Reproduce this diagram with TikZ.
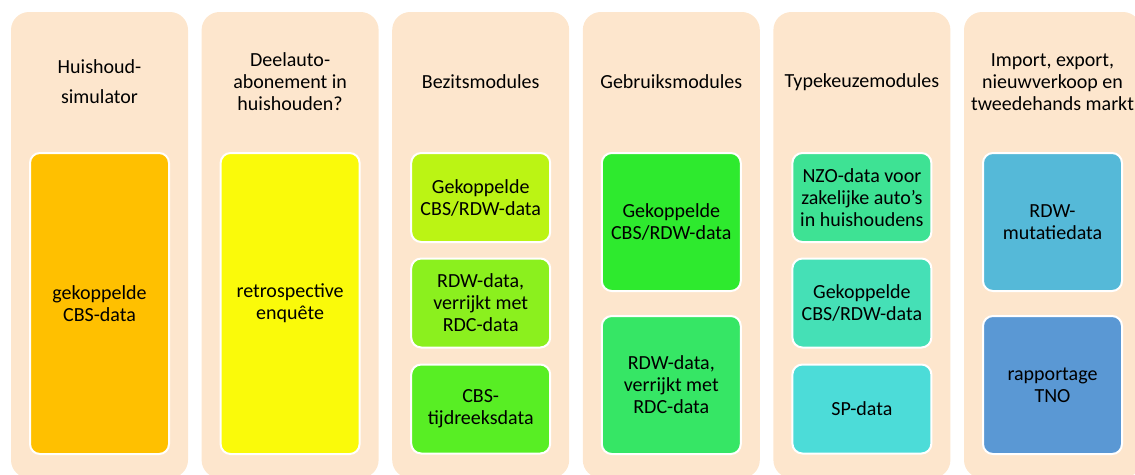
\documentclass[tikz,border=0pt]{standalone}
\usepackage{fontspec}
\setmainfont{Carlito}
\definecolor{peach}{HTML}{FDE6CD}
\definecolor{cA}{HTML}{FFC000}
\definecolor{cB}{HTML}{FAFA0A}
\definecolor{cC}{HTML}{BBF414}
\definecolor{cD}{HTML}{8BF01E}
\definecolor{cE}{HTML}{58EE24}
\definecolor{cF}{HTML}{2EEA2E}
\definecolor{cG}{HTML}{36E665}
\definecolor{cH}{HTML}{3EE294}
\definecolor{cI}{HTML}{45E0B6}
\definecolor{cJ}{HTML}{4CDCD8}
\definecolor{cK}{HTML}{55B9D8}
\definecolor{cL}{HTML}{5A98D4}
\tikzset{
  x=1pt, y=-1pt,
  colbox/.style={fill=peach, draw=none, rounded corners=18pt, minimum width=177pt, minimum height=466pt, inner sep=0pt},
  coltitle/.style={align=center, font=\fontsize{20}{22}\selectfont, inner sep=0pt, text=black},
  databox/.style={draw=white, line width=2pt, rounded corners=10pt, minimum width=139pt, inner sep=0pt, align=center, font=\fontsize{20}{22}\selectfont, text=black},
  fullbox/.style={databox, minimum height=301pt},
  thirdbox/.style={databox, minimum height=89pt},
  halfbox/.style={databox, minimum height=138pt}
}
\begin{document}
\begin{tikzpicture}
\useasboundingbox (0,0) rectangle (1135,474);
% columns
\node[colbox] (c1) at (99.5,245) {};
\node[colbox] (c2) at (290.1,245) {};
\node[colbox] (c3) at (480.7,245) {};
\node[colbox] (c4) at (671.3,245) {};
\node[colbox] (c5) at (861.9,245) {};
\node[colbox] (c6) at (1052.5,245) {};
% titles
\node[coltitle] (t1) at (99.5,82) {Huishoud-\\[8pt]simulator};
\node[coltitle] (t2) at (290.1,82) {Deelauto-\\abonement in\\huishouden?};
\node[coltitle] (t3) at (480.7,82) {Bezitsmodules};
\node[coltitle] (t4) at (671.3,82) {Gebruiksmodules};
\node[coltitle] (t5) at (861.9,82) {Typekeuzemodules};
\node[coltitle] (t6) at (1052.5,82) {Import, export,\\nieuwverkoop en\\tweedehands markt};
% column 1
\node[fullbox, fill=cA] (b11) at (99.5,303.5) {gekoppelde\\CBS-data};
% column 2
\node[fullbox, fill=cB] (b21) at (290.1,303.5) {retrospective\\enquête};
% column 3
\node[thirdbox, fill=cC] (b31) at (480.7,197.5) {Gekoppelde\\CBS/RDW-data};
\node[thirdbox, fill=cD] (b32) at (480.7,303) {RDW-data,\\verrijkt met\\RDC-data};
\node[thirdbox, fill=cE] (b33) at (480.7,409) {CBS-\\tijdreeksdata};
% column 4
\node[halfbox, fill=cF] (b41) at (671.3,222) {Gekoppelde\\CBS/RDW-data};
\node[halfbox, fill=cG] (b42) at (671.3,385) {RDW-data,\\verrijkt met\\RDC-data};
% column 5
\node[thirdbox, fill=cH] (b51) at (861.9,197.5) {NZO-data voor\\zakelijke auto’s\\in huishoudens};
\node[thirdbox, fill=cI] (b52) at (861.9,303) {Gekoppelde\\CBS/RDW-data};
\node[thirdbox, fill=cJ] (b53) at (861.9,409) {SP-data};
% column 6
\node[halfbox, fill=cK] (b61) at (1052.5,222) {RDW-\\mutatiedata};
\node[halfbox, fill=cL] (b62) at (1052.5,385) {rapportage\\TNO};
\end{tikzpicture}
\end{document}
